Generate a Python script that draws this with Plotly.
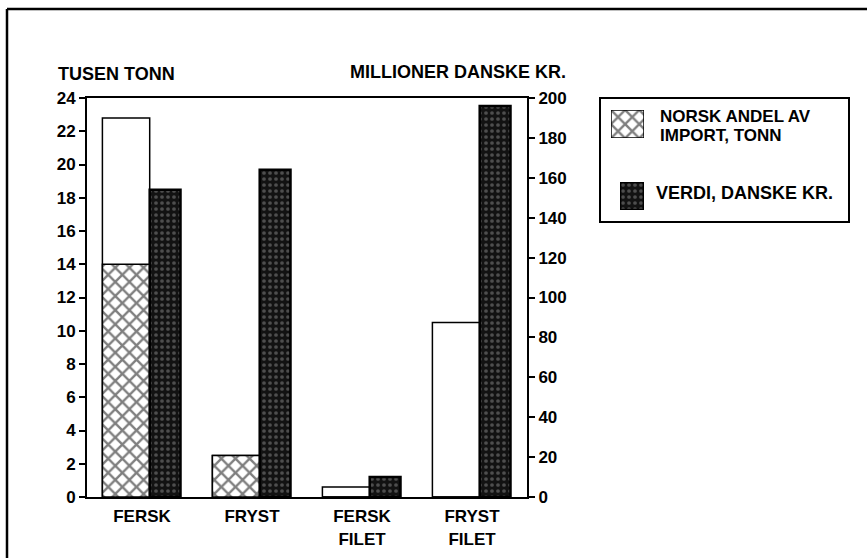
import plotly.graph_objects as go

# Danish imports by product group
categories = ["FERSK", "FRYST", "FERSK<br>FILET", "FRYST<br>FILET"]
import_tonn = [22.8, 2.5, 0.6, 10.5]      # total import, thousand tonnes
norsk_andel = [14.0, 2.5, 0.0, 0.0]       # Norwegian share, thousand tonnes
verdi_dkk = [154, 164, 10, 196]           # value, million DKK

FONT = "Liberation Sans"
W, H = 867, 558
L, R, T, B = 87, 18, 98, 61
PW, PH = W - L - R, H - T - B


def px(x):
    return (x - L) / PW


def py(y):
    return (H - B - y) / PH


hatch = dict(shape="x", fgcolor="black", bgcolor="white", size=10, solidity=0.42)
dark_marker = dict(color="#121212", line=dict(color="black", width=2.5),
                   pattern=dict(shape=".", fgcolor="#8a8a8a", bgcolor="#121212",
                                size=6, solidity=0.3))

fig = go.Figure()

# total import (white bars)
fig.add_trace(go.Bar(
    x=categories, y=import_tonn, offset=-0.36, width=0.43,
    marker=dict(color="white", line=dict(color="black", width=1.5)),
    name="IMPORT, TONN",
))
# Norwegian share (cross-hatched, drawn over the total)
fig.add_trace(go.Bar(
    x=categories, y=norsk_andel, offset=-0.36, width=0.43,
    marker=dict(color="white", line=dict(color="black", width=1.5), pattern=hatch),
    name="NORSK ANDEL AV IMPORT, TONN",
))
# value in DKK on the right axis
fig.add_trace(go.Bar(
    x=categories, y=verdi_dkk, offset=0.07, width=0.28, yaxis="y2",
    marker=dark_marker, name="VERDI, DANSKE KR.",
))

# legend keys, each on its own hidden axis inside the legend box
fig.add_trace(go.Bar(
    x=[0.5], y=[1], width=[1], xaxis="x3", yaxis="y3", cliponaxis=False,
    marker=dict(color="white", line=dict(color="black", width=1.5), pattern=hatch),
    hoverinfo="skip",
))
fig.add_trace(go.Bar(
    x=[0.5], y=[1], width=[1], xaxis="x4", yaxis="y4", cliponaxis=False,
    marker=dark_marker, hoverinfo="skip",
))

tick_font = dict(family=FONT, size=17, color="black", weight="bold")
axis_style = dict(showline=True, linecolor="black", linewidth=2, showgrid=False,
                  zeroline=False, ticks="outside", ticklen=6, tickwidth=1.5,
                  tickcolor="black", tickfont=tick_font, automargin=False)

hidden = dict(visible=False, range=[0, 1], fixedrange=True)

fig.update_layout(
    width=W, height=H,
    margin=dict(l=L, r=R, t=T, b=B, autoexpand=False),
    paper_bgcolor="white", plot_bgcolor="white",
    barmode="overlay", showlegend=False,
    font=dict(family=FONT, color="black"),
    xaxis=dict(domain=[0, 440 / PW], type="category", range=[-0.5, 3.5],
               showline=True, linecolor="black", linewidth=2, mirror=True,
               ticks="", showgrid=False, ticklabelstandoff=3, automargin=False,
               tickfont=dict(family=FONT, size=17, color="black", weight="bold")),
    yaxis=dict(range=[0, 24], dtick=2, **axis_style),
    yaxis2=dict(range=[0, 200], dtick=20, overlaying="y", side="right",
                anchor="x", **axis_style),
    xaxis3=dict(domain=[px(611), px(644)], anchor="y3", **hidden),
    yaxis3=dict(domain=[py(138), py(110)], anchor="x3", **hidden),
    xaxis4=dict(domain=[px(620), px(644)], anchor="y4", **hidden),
    yaxis4=dict(domain=[py(210), py(182)], anchor="x4", **hidden),
)

label_font = dict(family=FONT, size=17, color="black", weight="bold")
annotations = [
    dict(text="TUSEN TONN", x=px(56), y=py(74), xanchor="left", size=18),
    dict(text="MILLIONER DANSKE KR.", x=px(568), y=py(72), xanchor="right", size=18),
    dict(text="NORSK ANDEL AV", x=px(658), y=py(116), xanchor="left", size=17),
    dict(text="IMPORT, TONN", x=px(658), y=py(135), xanchor="left", size=17),
    dict(text="VERDI, DANSKE KR.", x=px(654), y=py(193), xanchor="left", size=18),
]
for a in annotations:
    size = a.pop("size")
    fig.add_annotation(xref="paper", yref="paper", yanchor="middle",
                       showarrow=False, font=dict(label_font, size=size), **a)

# outer frame (top and left) and legend box
fig.add_shape(type="line", xref="paper", yref="paper",
              x0=px(7), x1=px(W + 2), y0=py(9), y1=py(9),
              line=dict(color="black", width=2.5))
fig.add_shape(type="line", xref="paper", yref="paper",
              x0=px(7), x1=px(7), y0=py(9), y1=py(H + 2),
              line=dict(color="black", width=2.5))
fig.add_shape(type="rect", xref="paper", yref="paper",
              x0=px(600), x1=px(849), y0=py(222), y1=py(98),
              line=dict(color="black", width=2))

fig.write_html("out.html")
